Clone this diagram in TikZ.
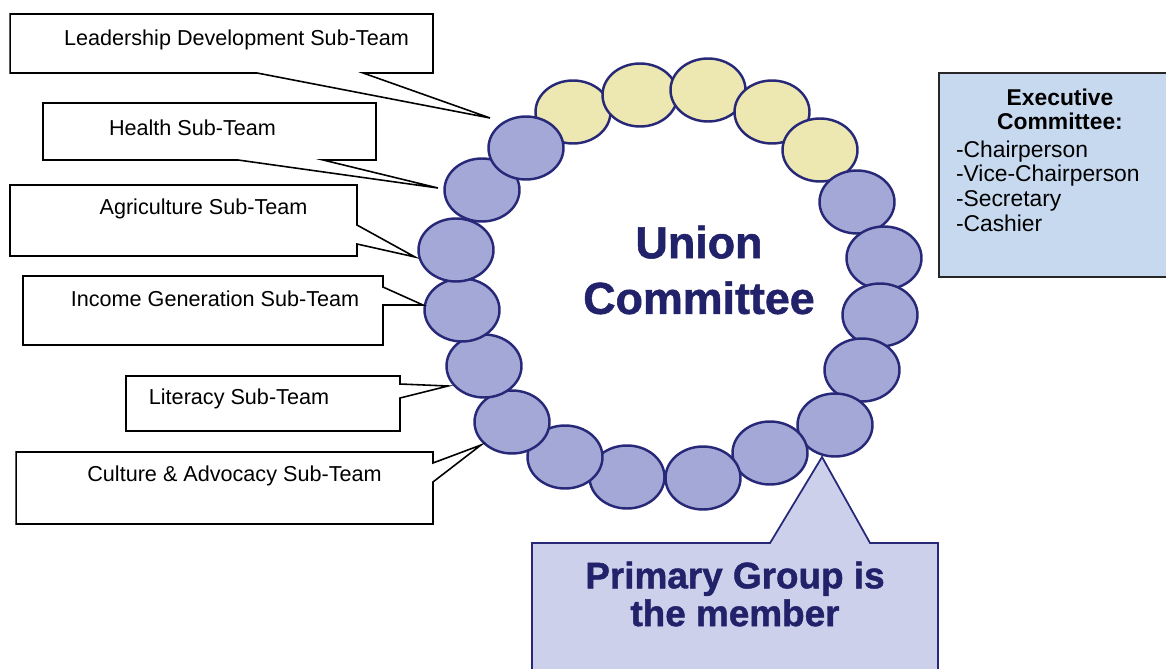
\documentclass[tikz,border=0pt]{standalone}
\usepackage{fontspec}
\setmainfont{Liberation Sans}
\newfontfamily\heavyfont[FakeBold=1.2]{Liberation Sans Bold}
\usetikzlibrary{shapes.geometric,calc}

\definecolor{beadblue}{HTML}{A4A8D6}
\definecolor{beadgold}{HTML}{EDE7B1}
\definecolor{beadline}{HTML}{272978}
\definecolor{titlenavy}{HTML}{22226A}
\definecolor{execblue}{HTML}{C6D9EE}
\definecolor{primfill}{HTML}{CDD0EB}

\begin{document}
\begin{tikzpicture}[x=0.02cm, y=-0.02cm, line join=miter,
    every node/.style={inner sep=0pt, outer sep=0pt},
    bead/.style={ellipse, draw=beadline, line width=1.4pt, minimum width=1.5cm, minimum height=1.26cm},
    subbox/.style={rectangle, fill=white},
    callout/.style={draw=black, fill=white, line width=0.9pt},
    subtxt/.style={font=\fontsize{12.3}{14}\selectfont}]
	\useasboundingbox (0,0) rectangle (1166,669);
	\clip (0,0) rectangle (1166,669);

	% 1. 珠串
	\foreach \x/\y [count=\i] in {573/112, 640/95, 708/90, 772/112, 820/150}
		\node[bead, fill=beadgold] (gold\i) at (\x,\y) {};
	\foreach \x/\y [count=\i] in {857/202, 884/258, 880/315, 862/370, 835/425,
	                              770/453, 703/478, 627/477, 565/457, 512/422,
	                              484/366, 462/310, 456/250, 482/190, 526/148}
		\node[bead, fill=beadblue] (bead\i) at (\x,\y) {};

	\node[font=\heavyfont\fontsize{25.5}{31.7}\selectfont, text=titlenavy, align=center] (union) at (699,270) {Union\\Committee};

	% 2. 小组标注框
	\coordinate (tipLead)   at (490,118);
	\coordinate (tipHealth) at (438,188);
	\coordinate (tipAgri)   at (415,257);
	\coordinate (tipIncome) at (423,305);
	\coordinate (tipLit)    at (448,386);
	\coordinate (tipCult)   at (481,445);

	\node[subbox, minimum width=8.46cm, minimum height=1.18cm] (lead)   at (221.5,43.5) {};
	\node[subbox, minimum width=6.66cm, minimum height=1.14cm] (health) at (209.5,131.5) {};
	\node[subbox, minimum width=6.94cm, minimum height=1.42cm] (agri)   at (183.5,220.5) {};
	\node[subbox, minimum width=7.20cm, minimum height=1.38cm] (income) at (203,310.5) {};
	\node[subbox, minimum width=5.48cm, minimum height=1.10cm] (lit)    at (263,403.5) {};
	\node[subbox, minimum width=8.34cm, minimum height=1.44cm] (cult)   at (224.5,488) {};

	\draw[callout] (lead.north west) -- (lead.north east) -- (lead.south east)
		-- ($(lead.south west)+(353,0)$) -- (tipLead) -- ($(lead.south west)+(247,0)$) -- (lead.south west) -- cycle;
	\draw[callout] (health.north west) -- (health.north east) -- (health.south east)
		-- ($(health.south west)+(280,0)$) -- (tipHealth) -- ($(health.south west)+(195,0)$) -- (health.south west) -- cycle;
	\draw[callout] (agri.north west) -- (agri.north east) -- ($(agri.north east)+(0,40)$)
		-- (tipAgri) -- ($(agri.north east)+(0,59)$) -- (agri.south east) -- (agri.south west) -- cycle;
	\draw[callout] (income.north west) -- (income.north east) -- ($(income.north east)+(0,11)$)
		-- (tipIncome) -- ($(income.north east)+(0,29)$) -- (income.south east) -- (income.south west) -- cycle;
	\draw[callout] (lit.north west) -- (lit.north east) -- ($(lit.north east)+(0,8)$)
		-- (tipLit) -- ($(lit.north east)+(0,22)$) -- (lit.south east) -- (lit.south west) -- cycle;
	\draw[callout] (cult.north west) -- (cult.north east) -- ($(cult.north east)+(0,11)$)
		-- (tipCult) -- ($(cult.north east)+(0,30)$) -- (cult.south east) -- (cult.south west) -- cycle;

	\node[subtxt] (leadtxt)   at (236.5,40)  {Leadership Development Sub-Team};
	\node[subtxt] (healthtxt) at (192.5,128) {Health Sub-Team};
	\node[subtxt] (agritxt)   at (203.5,209) {Agriculture Sub-Team};
	\node[subtxt] (incometxt) at (215,299)   {Income Generation Sub-Team};
	\node[subtxt] (littxt)    at (239,399)   {Literacy Sub-Team};
	\node[subtxt] (culttxt)   at (234.5,476) {Culture \& Advocacy Sub-Team};

	% 3. 执行委员会
	\node[draw=black!85, fill=execblue, line width=0.9pt, minimum width=4.66cm, minimum height=4.08cm] (exec) at (1055.5,175) {};
	\node[font=\bfseries\fontsize{13}{14}\selectfont, align=center] (exectitle) at (1060,109.5) {Executive\\Committee:};
	\node[font=\fontsize{13}{14}\selectfont, align=left, anchor=west] (execlist) at (956,186)
		{-Chairperson\\-Vice-Chairperson\\-Secretary\\-Cashier};

	% 4. 初级小组
	\coordinate (tipPrim) at (822,457);
	\node[rectangle, minimum width=8.12cm, minimum height=2.80cm] (prim) at (735,613) {};
	\draw[draw=beadline, fill=primfill, line width=1pt] (prim.north west) -- ($(prim.north west)+(238,0)$)
		-- (tipPrim) -- ($(prim.north west)+(338,0)$) -- (prim.north east) -- (prim.south east) -- (prim.south west) -- cycle;
	\node[font=\heavyfont\fontsize{21}{21.5}\selectfont, text=titlenavy, align=center] (primtxt) at (735,594)
		{Primary Group is\\the member};
\end{tikzpicture}
\end{document}
